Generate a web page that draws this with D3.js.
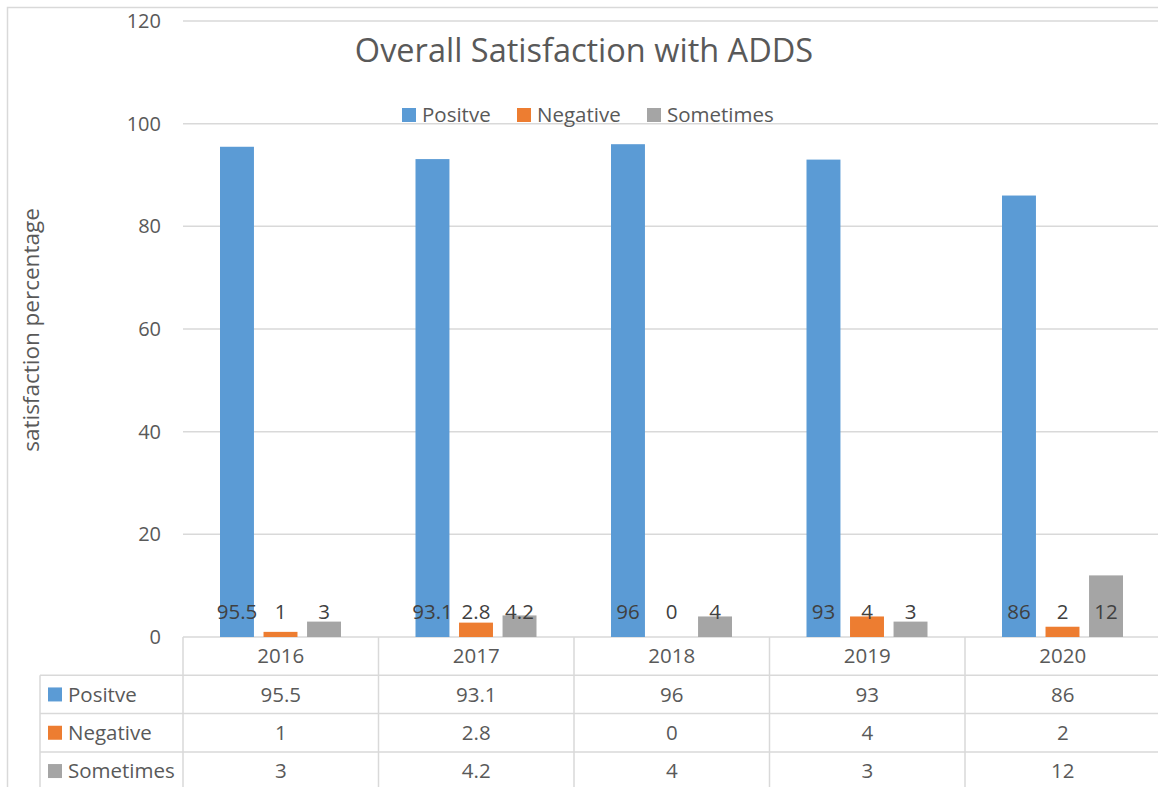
<!DOCTYPE html>
<html>
<head>
<meta charset="utf-8">
<script src="https://cdn.jsdelivr.net/npm/d3@7"></script>
<style>
  body { margin: 0; background: #fff; }
  svg { display: block; font-family: "Open Sans", "Noto Sans", sans-serif; }
</style>
</head>
<body>
<div id="chart"></div>
<script>
// data
const years = ["2016", "2017", "2018", "2019", "2020"];
const seriesNames = ["Positve", "Negative", "Sometimes"];
const positive = [95.5, 93.1, 96, 93, 86];
const negative = [1, 2.8, 0, 4, 2];
const sometimes = [3, 4.2, 4, 3, 12];
const yTicks = [0, 20, 40, 60, 80, 100, 120];

const values = [positive, negative, sometimes];
const colors = ["#5b9bd5", "#ed7d31", "#a5a5a5"];

const width = 1158, height = 787;
const plotLeft = 183, plotRight = 1160.5;
const plotTop = 21, plotBottom = 637;
const rowH = 38.3;
const gridColor = "#d9d9d9";
const textColor = "#595959";

const svg = d3.select("#chart").append("svg")
  .attr("width", width)
  .attr("height", height);

// outer chart border
svg.append("rect")
  .attr("x", 7.5).attr("y", 7.5)
  .attr("width", width).attr("height", height)
  .attr("fill", "none")
  .attr("stroke", gridColor)
  .attr("stroke-width", 1.5);

const x0 = d3.scaleBand()
  .domain(years)
  .range([plotLeft, plotRight])
  .padding(0);

const x1 = d3.scaleBand()
  .domain(seriesNames)
  .range([37, x0.bandwidth() - 37.5])
  .paddingInner(0.22)
  .paddingOuter(0);

const y = d3.scaleLinear()
  .domain([0, 120])
  .range([plotBottom, plotTop]);

// gridlines
svg.append("g")
  .selectAll("line")
  .data(yTicks)
  .join("line")
  .attr("x1", plotLeft)
  .attr("x2", plotRight)
  .attr("y1", (d) => y(d))
  .attr("y2", (d) => y(d))
  .attr("stroke", gridColor)
  .attr("stroke-width", 1.5);

// y tick labels
svg.append("g")
  .selectAll("text")
  .data(yTicks)
  .join("text")
  .attr("x", 161)
  .attr("y", (d) => y(d))
  .attr("dy", "0.35em")
  .attr("text-anchor", "end")
  .attr("font-size", 20)
  .attr("fill", textColor)
  .text((d) => d);

// y axis title
svg.append("text")
  .attr("transform", `translate(39, ${330}) rotate(-90)`)
  .attr("text-anchor", "middle")
  .attr("font-size", 22.5)
  .attr("fill", textColor)
  .text("satisfaction percentage");

// title
svg.append("text")
  .attr("x", 584)
  .attr("y", 62)
  .attr("text-anchor", "middle")
  .attr("font-size", 32.5)
  .attr("fill", textColor)
  .text("Overall Satisfaction with ADDS");

// top legend
const legendX = [402, 517, 647];
seriesNames.forEach((name, i) => {
  svg.append("rect")
    .attr("x", legendX[i]).attr("y", 108)
    .attr("width", 14).attr("height", 14)
    .attr("fill", colors[i]);
  svg.append("text")
    .attr("x", legendX[i] + 20)
    .attr("y", 115)
    .attr("dy", "0.35em")
    .attr("font-size", 20.5)
    .attr("fill", textColor)
    .text(name);
});

// bars
years.forEach((year, yi) => {
  const g = svg.append("g").attr("transform", `translate(${x0(year)},0)`);
  seriesNames.forEach((name, si) => {
    const v = values[si][yi];
    g.append("rect")
      .attr("x", x1(name))
      .attr("y", y(v))
      .attr("width", x1.bandwidth())
      .attr("height", plotBottom - y(v))
      .attr("fill", colors[si]);
  });
  // labels at inside base
  seriesNames.forEach((name, si) => {
    const v = values[si][yi];
    g.append("text")
      .attr("x", x1(name) + x1.bandwidth() / 2)
      .attr("y", 612)
      .attr("dy", "0.35em")
      .attr("text-anchor", "middle")
      .attr("font-size", 20.5)
      .attr("fill", "#404040")
      .text(v);
  });
});

// data table
const table = svg.append("g");
const tableLeft = 40;
const tableBottom = height + 2;

// column lines + year headers
years.forEach((year, i) => {
  table.append("line")
    .attr("x1", x0(year)).attr("x2", x0(year))
    .attr("y1", plotBottom).attr("y2", tableBottom)
    .attr("stroke", gridColor).attr("stroke-width", 1.5);
  table.append("text")
    .attr("x", x0(year) + x0.bandwidth() / 2)
    .attr("y", plotBottom + rowH / 2)
    .attr("dy", "0.35em")
    .attr("text-anchor", "middle")
    .attr("font-size", 20.5)
    .attr("fill", textColor)
    .text(year);
});

// horizontal row lines
[1, 2, 3].forEach((r) => {
  table.append("line")
    .attr("x1", tableLeft).attr("x2", plotRight)
    .attr("y1", plotBottom + rowH * r).attr("y2", plotBottom + rowH * r)
    .attr("stroke", gridColor).attr("stroke-width", 1.5);
});
table.append("line")
  .attr("x1", tableLeft).attr("x2", tableLeft)
  .attr("y1", plotBottom + rowH).attr("y2", tableBottom)
  .attr("stroke", gridColor).attr("stroke-width", 1.5);

seriesNames.forEach((name, si) => {
  const cy = plotBottom + rowH * (si + 1) + rowH / 2;
  table.append("rect")
    .attr("x", 48).attr("y", cy - 7)
    .attr("width", 14).attr("height", 14)
    .attr("fill", colors[si]);
  table.append("text")
    .attr("x", 68).attr("y", cy)
    .attr("dy", "0.35em")
    .attr("font-size", 20.5)
    .attr("fill", textColor)
    .text(name);
  years.forEach((year, yi) => {
    table.append("text")
      .attr("x", x0(year) + x0.bandwidth() / 2)
      .attr("y", cy)
      .attr("dy", "0.35em")
      .attr("text-anchor", "middle")
      .attr("font-size", 20.5)
      .attr("fill", textColor)
      .text(values[si][yi]);
  });
});
</script>
</body>
</html>
